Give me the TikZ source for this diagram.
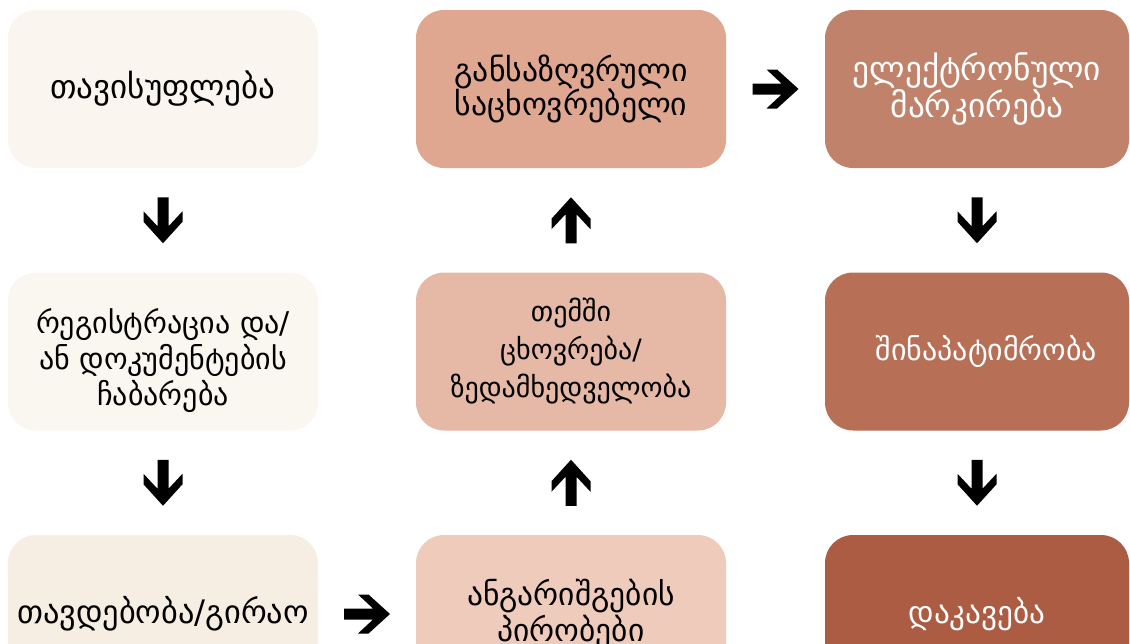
\documentclass[tikz,border=0pt]{standalone}
\usepackage{fontspec}
\setmainfont{DejaVu Sans}
\usetikzlibrary{calc}
\definecolor{cA}{HTML}{FAF5EF}
\definecolor{cB}{HTML}{FAF6F0}
\definecolor{cC}{HTML}{F6EEE2}
\definecolor{cD}{HTML}{DFA78F}
\definecolor{cE}{HTML}{E6B8A6}
\definecolor{cF}{HTML}{EECBBB}
\definecolor{cG}{HTML}{C0826A}
\definecolor{cH}{HTML}{B76F56}
\definecolor{cI}{HTML}{AB5C43}
\newcommand{\blkarrow}[2]{\fill[black, shift={#1}, rotate=#2] (-23,-5.5) -- (6,-5.5) -- (-9,-19.5) -- (1.5,-19.5) -- (23,0) -- (1.5,19.5) -- (-9,19.5) -- (6,5.5) -- (-23,5.5) -- cycle;}
\newcommand{\fs}[2]{\fontsize{#1}{#2}\selectfont}
\begin{document}
\begin{tikzpicture}[x=0.75pt,y=-0.75pt,
  box/.style={rounded corners=21pt, minimum width=232.5pt, minimum height=118.5pt,
    align=center, inner sep=0pt},
  rbox/.style={box, minimum width=228pt},
  dark/.style={box, text=black},
  light/.style={rbox, text=white},
  txt/.style={align=center, inner sep=0pt}]
\useasboundingbox (0,0) rectangle (1130,643);
\clip (0,0) rectangle (1130,643);
\node[dark, fill=cA, font=\fs{24.8}{27}] (b1) at (163,89) {თავისუფლება};
\node[dark, fill=cB] (b2) at (163,351.5) {};
\node[txt, font=\fs{22.5}{27}] (b2t) at ($(b2.center)+(0,9)$) {რეგისტრაცია და/\\ან დოკუმენტების\\ჩაბარება};
\node[dark, fill=cC, font=\fs{24.3}{27}] (b3) at (163,614) {თავდებობა/გირაო};
\node[dark, fill=cF, font=\fs{23.6}{26.5}] (b4) at (571,614) {ანგარიშგების\\პირობები};
\node[dark, fill=cE, font=\fs{21}{28.5}] (b5) at (571,351.5) {თემში\\ცხოვრება/\\ზედამხედველობა};
\node[dark, fill=cD, font=\fs{23.8}{26}] (b6) at (571,89) {განსაზღვრული\\საცხოვრებელი};
\node[light, fill=cG, font=\fs{25}{26}] (b7) at (977,89) {ელექტრონული\\მარკირება};
\node[light, fill=cH, font=\fs{22.5}{26}] (b8) at (977,351.5) {\hspace*{14pt}შინაპატიმრობა};
\node[light, fill=cI, font=\fs{23.4}{26}] (b9) at (977,614) {დაკავება};
\blkarrow{($(b1.south)!0.5!(b2.north)$)}{-90}
\blkarrow{($(b2.south)!0.5!(b3.north)$)}{-90}
\blkarrow{($(b3.east)!0.5!(b4.west)$)}{0}
\blkarrow{($(b4.north)!0.5!(b5.south)$)}{90}
\blkarrow{($(b5.north)!0.5!(b6.south)$)}{90}
\blkarrow{($(b6.east)!0.5!(b7.west)$)}{0}
\blkarrow{($(b7.south)!0.5!(b8.north)$)}{-90}
\blkarrow{($(b8.south)!0.5!(b9.north)$)}{-90}
\end{tikzpicture}
\end{document}
